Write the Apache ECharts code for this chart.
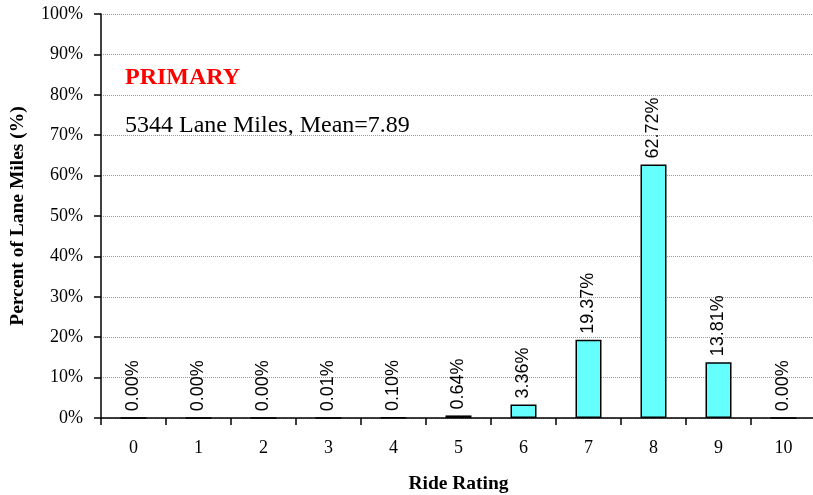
<!DOCTYPE html>
<html>
<head>
<meta charset="utf-8">
<script src="https://cdn.jsdelivr.net/npm/echarts@6/dist/echarts.min.js"></script>
<style>
  html, body { margin: 0; padding: 0; background: #fff; }
  #chart { width: 813px; height: 495px; }
</style>
</head>
<body>
<div id="chart"></div>
<script>
// Ride rating distribution for primary roads
const ratings = ['0', '1', '2', '3', '4', '5', '6', '7', '8', '9', '10'];
const percentLaneMiles = [0.00, 0.00, 0.00, 0.01, 0.10, 0.64, 3.36, 19.37, 62.72, 13.81, 0.00];
const yTicks = [0, 10, 20, 30, 40, 50, 60, 70, 80, 90, 100];

const serif = '"Liberation Serif", "Times New Roman", serif';
const sans = '"Liberation Sans", Arial, sans-serif';

const chart = echarts.init(document.getElementById('chart'));
chart.setOption({
  backgroundColor: '#fff',
  animation: false,
  grid: { left: 101, top: 14, width: 715, height: 404, containLabel: false, outerBoundsMode: 'none' },
  graphic: [
    { type: 'text', left: 125, top: 66, style: { text: 'PRIMARY', fill: '#ff0000', font: 'bold 24px ' + serif } },
    { type: 'text', left: 125, top: 114, style: { text: '5344 Lane Miles, Mean=7.89', fill: '#000', font: '24px ' + serif } }
  ],
  xAxis: {
    type: 'category',
    data: ratings,
    name: 'Ride Rating',
    nameLocation: 'middle',
    nameGap: 56,
    nameTextStyle: { fontFamily: serif, fontWeight: 'bold', fontSize: 19.5, color: '#000' },
    axisLine: { z: 5, lineStyle: { color: '#000', width: 1.5 } },
    axisTick: { show: true, alignWithLabel: false, length: 7, lineStyle: { color: '#000', width: 1.5 } },
    axisLabel: { fontFamily: serif, fontSize: 18, color: '#000', margin: 21 },
    splitLine: { show: false }
  },
  yAxis: {
    type: 'value',
    min: yTicks[0],
    max: yTicks[yTicks.length - 1],
    interval: 10,
    name: 'Percent of Lane Miles (%)',
    nameLocation: 'middle',
    nameGap: 73,
    nameTextStyle: { fontFamily: serif, fontWeight: 'bold', fontSize: 19.5, color: '#000' },
    axisLine: { show: true, lineStyle: { color: '#000', width: 1.5 } },
    axisTick: { show: true, length: 7, lineStyle: { color: '#000', width: 1.5 } },
    axisLabel: { fontFamily: serif, fontSize: 18, color: '#000', margin: 18, formatter: '{value}%' },
    splitLine: { show: true, lineStyle: { color: '#999', width: 1, type: [1, 1] } }
  },
  series: [{
    type: 'bar',
    data: percentLaneMiles,
    barWidth: '40%',
    itemStyle: { color: '#66ffff', borderColor: '#000', borderWidth: 1.5 },
    label: {
      show: true,
      position: 'top',
      rotate: 90,
      align: 'left',
      verticalAlign: 'middle',
      distance: 6,
      fontFamily: sans,
      fontSize: 18,
      color: '#000',
      formatter: p => p.value.toFixed(2) + '%'
    }
  }]
});
</script>
</body>
</html>
